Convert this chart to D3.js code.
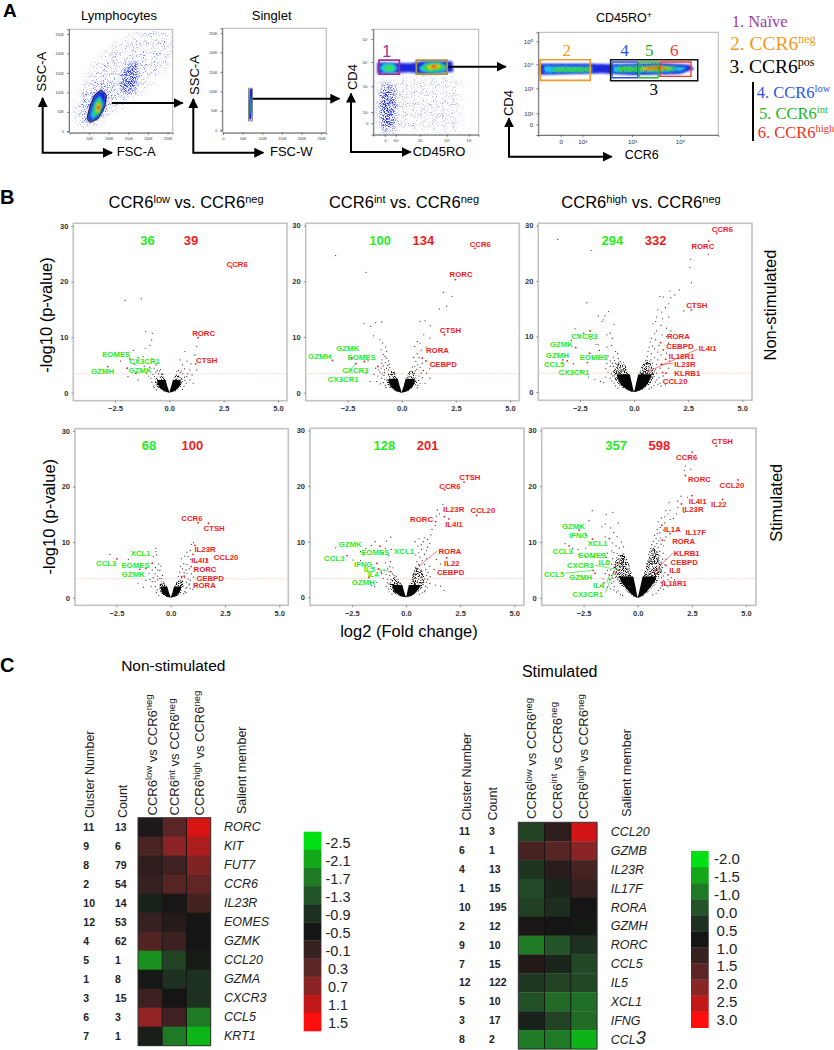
<!DOCTYPE html>
<html>
<head>
<meta charset="utf-8">
<title>CCR6 figure</title>
<script src="https://d3js.org/d3.v7.min.js"></script>
<style>
  body { margin: 0; background: white; }
  text { font-family: "Liberation Sans", Arial, sans-serif; }
  .serif { font-family: "Liberation Serif", "Times New Roman", serif; }
</style>
</head>
<body>
<svg id="chart" width="834" height="1050"></svg>
<script>
// ---- panel A : gated populations (FSC/SSC in K, the rest in decades)
var scatterTicks = [50, 100, 150, 200, 250];
var logTicks = [1.55, 2, 3, 4, 5];
var logLabels = ["0", "10²", "10³", "10⁴", "10⁵"];

var lymphSparse = [[22,8],[14,55],[35,123],[77,191],[162,251],[262,262],[262,183],[196,115],[162,80],[111,55],[69,21]];
var lymphHalo = [[35,21],[26,46],[39,89],[69,123],[111,132],[111,89],[94,46],[60,21]];
var lymphCloud = [[128,106],[136,149],[158,179],[173,175],[175,140],[166,106],[149,96]];
var lymphGate = [[81,106],[94,93],[90,63],[73,33],[52,23],[45,33],[52,63],[64,93]];
var lymphCyan = [[77,93],[87,72],[77,46],[58,29],[53,42],[63,76]];
var lymphGreen = [[75,85],[83,68],[75,46],[63,38],[63,63]];
var lymphYellow = [[75,76],[80,63],[73,48],[67,50],[69,68]];
var lymphRed = [[75,70],[77,62],[73,53],[70,59]];

var singletBlue = [[67,28],[72,28],[74,60],[74,106],[68,106],[66,60]];
var singletCyan = [[68,42],[72,42],[72.5,85],[69,85]];
var singletGreen = [[69,50],[71,50],[71.5,72],[69.5,72]];
var singletGate = [[65,24],[75,24],[75,108],[65,108]];

var memLower = [[1.35,3.15],[1.95,3.15],[2.1,2.3],[2,1.25],[1.4,1.2],[1.25,2.2]];
var memLowerCore = [[1.45,2.9],[1.85,2.9],[1.9,2.1],[1.8,1.35],[1.5,1.35],[1.4,2.1]];
var memSparse = [[2.05,1.2],[2.05,3.4],[4.6,3.4],[4.6,1.2]];
var memBand = [[1.22,3.52],[1.22,3.98],[2.6,3.95],[3.1,4.03],[4.25,4.03],[4.3,3.6],[3.1,3.5],[2.6,3.58]];
var memCyan = [[1.3,3.75],[1.5,3.95],[1.9,3.95],[2.1,3.75],[1.9,3.55],[1.5,3.55]];
var memGreen = [[1.45,3.75],[1.6,3.87],[1.85,3.87],[1.98,3.75],[1.85,3.63],[1.6,3.63]];
var memCyan2 = [[2.95,3.75],[3.2,3.97],[3.7,4],[4.05,3.85],[3.95,3.62],[3.4,3.55],[3.05,3.6]];
var memGreen2 = [[3.05,3.75],[3.3,3.93],[3.7,3.95],[3.95,3.82],[3.8,3.67],[3.3,3.62]];
var memYellow = [[3.25,3.78],[3.4,3.9],[3.7,3.9],[3.8,3.8],[3.6,3.72],[3.35,3.7]];
var memRed = [[3.38,3.8],[3.5,3.87],[3.65,3.85],[3.62,3.78],[3.45,3.76]];
var naiveGate = [[1.3,3.5],[1.3,4.08],[2.15,4.08],[2.15,3.5]];
var memoryGate = [[2.85,3.5],[2.85,4.08],[4.02,4.08],[4.02,3.5]];

var bandBlue = [[1.12,3.56],[1.12,4.02],[2.2,4.02],[2.6,4.0],[3.6,4.05],[4.2,3.98],[4.3,3.8],[4.0,3.6],[3.0,3.55],[2.4,3.63]];
var bandCyan = [[1.2,3.65],[1.2,3.94],[2.2,3.92],[2.2,3.67]];
var bandCyan2 = [[2.62,3.66],[2.62,3.93],[3.6,3.96],[4.15,3.88],[4.05,3.72],[3.6,3.66]];
var bandGreen = [[1.4,3.7],[1.4,3.86],[2.15,3.86],[2.15,3.7]];
var bandGreen2 = [[2.72,3.7],[2.72,3.9],[3.6,3.93],[3.95,3.86],[3.85,3.74],[3.5,3.7]];
var bandYellow = [[3.2,3.76],[3.2,3.87],[3.55,3.92],[3.88,3.86],[3.6,3.78]];
var bandRed = [[3.3,3.8],[3.3,3.86],[3.55,3.9],[3.76,3.85],[3.55,3.82]];
var gateNeg = [[1.12,3.33],[1.12,4.2],[2.16,4.2],[2.16,3.33]];
var gatePos = [[2.57,3.31],[2.57,4.2],[4.37,4.2],[4.37,3.31]];
var gateLow = [[2.6,3.44],[2.6,4.1],[3.12,4.1],[3.12,3.44]];
var gateInt = [[3.15,3.44],[3.15,4.1],[3.54,4.1],[3.54,3.44]];
var gateHigh = [[3.58,3.5],[3.58,4.1],[4.23,4.1],[4.23,3.5]];

// ---- panel B : volcano plots. [gene, fold change, -log10 p, label fold change, label -log10 p]
var genesLowNon = [["CCR6",2.86,22.5,3.12,23.2],["RORC",1.32,9.9,1.58,10.7],["CTSH",1.21,5.2,1.72,5.9],
  ["GZMH",-2.83,4.7,-3.06,3.9],["EOMES",-1.81,6.1,-2.44,7.0],["CX3CR1",-1.94,4.4,-1.14,5.6],["GZMK",-1.54,3.5,-1.34,4.1]];
var genesIntNon = [["CCR6",3.38,25.9,3.63,26.7],["RORC",2.48,20.3,2.74,21.2],["CTSH",1.97,10.4,2.25,11.2],
  ["RORA",.95,6.2,1.65,7.6],["CEBPD",1.12,5.7,1.92,5.1],["GZMH",-3.2,5.8,-3.78,6.5],["GZMK",-2.3,6.2,-2.49,7.9],
  ["EOMES",-1.72,5.6,-1.85,6.4],["CXCR3",-2.12,5.2,-2.14,4.0],["CX3CR1",-1.1,4.7,-2.7,2.5]];
var genesHighNon = [["CCR6",3.82,28.6,4.08,29.3],["RORC",3.45,27.2,3.18,26.3],["CTSH",2.65,14.8,2.9,15.6],
  ["RORA",1.23,8.9,2.05,10.1],["CEBPD",1.35,7.6,2.12,8.3],["IL4I1",.66,3.7,3.4,7.9],["IL18R1",1.46,5.9,2.2,6.5],
  ["IL23R",1.28,5,2.35,5],["KLRB1",1.32,3.5,2.46,3.4],["CCL20",1.48,3.4,1.9,1.9],["CXCR3",-2.03,11,-2.29,10.1],
  ["GZMK",-2.69,8,-3.35,8.6],["GZMH",-3.08,5.6,-3.54,6.7],["EOMES",-2.05,7,-1.86,6.3],["CCL5",-3.28,5.8,-3.69,5],
  ["CX3CR1",-2.15,5.3,-2.77,3.5]];
var genesLowSti = [["CCR6",1.26,13.5,.98,14.3],["CTSH",1.74,13.4,2.0,12.5],["IL23R",1.12,9.4,1.58,8.8],
  ["IL4I1",1.02,7.8,1.35,6.8],["CCL20",1.69,6.8,2.55,7.3],["RORC",.94,5.6,1.58,5.2],["CEBPD",.62,3.9,1.82,3.6],
  ["RORA",.51,3.8,1.55,2.2],["CCL3",-2.48,7,-2.97,6.2],["XCL1",-.85,6.2,-1.38,8],["EOMES",-1.15,5.3,-1.62,5.9],
  ["GZMK",-1.42,5.1,-1.72,4.3]];
var genesIntSti = [["CTSH",2.68,20.7,2.95,21.5],["CCR6",1.78,19.3,2.03,20],["IL23R",1.77,14.5,2.2,15.8],
  ["IL4I1",1.97,14.1,2.22,13.2],["CCL20",3.26,14.7,3.55,15.6],["RORC",1.37,13.6,.72,14],["RORA",.62,5.7,2.03,8.3],
  ["IL22",1.88,7.1,2.12,6.1],["CEBPD",.72,4.7,2.06,4.5],["GZMK",-1.2,9.2,-2.57,9.6],["EOMES",-1.97,7.7,-1.42,8.1],
  ["XCL1",-.72,4.6,-.09,8.3],["CCL3",-2.72,7.5,-3.31,7],["IFNG",-1.35,6.1,-1.97,6],["IL5",-1.26,5.1,-1.69,5],
  ["IL4",-1.12,4.3,-1.51,4.2],["GZMH",-1.72,3.6,-1.97,2.7]];
var genesHighSti = [["CTSH",3.63,27.2,3.91,28],["CCR6",2.51,26.1,2.26,25.2],["RORC",2.2,21.9,2.85,21.3],
  ["CCL20",4.63,21.1,4.35,20.1],["IL4I1",2.51,18.3,2.77,17.3],["IL22",3.92,17.6,3.75,16.7],["IL23R",2.02,16.8,2.55,15.9],
  ["IL1A",1.11,13,1.6,12.2],["IL17F",1.49,11.5,2.68,11.8],["RORA",1.14,10.3,2.12,10.2],["KLRB1",.8,4.8,2.26,7.9],
  ["CEBPD",1.31,5.8,2.15,6.4],["IL8",1.4,4.1,1.72,4.9],["IL18R1",.85,4.3,1.68,2.6],["GZMK",-2.71,12.1,-2.97,12.9],
  ["IFNG",-2.09,10.5,-2.74,11.2],["XCL1",-1.31,10.6,-1.85,9.7],["CCL3",-3.17,9.3,-3.46,8.4],["EOMES",-.85,6.2,-2.09,7.7],
  ["IL5",-.85,5,-1.55,6.3],["CXCR3",-.9,4.9,-2.65,5.8],["CCL5",-2.05,4.9,-3.86,4.3],["GZMH",-1.97,4.4,-2.63,3.7],
  ["IL4",-1.31,4.1,-1.8,2.2],["CX3CR1",-1.12,4.4,-2.31,.6]];

// leader lines, [x1, y1, x2, y2]
var leadersIntNon = [[-2.54,3.5,-2.12,5.2]];
var leadersHighNon = [[2.92,7.7,.66,3.7],[1.82,5.2,1.2,4.9]];
var leadersIntSti = [[1.45,8.3,.62,5.7],[-1.35,5,-.66,4.6]];
var leadersHighSti = [[1.62,8,.8,4.8],[-1.97,5.8,-.85,5],[-3.35,4.4,-2.05,4.9],[-1.43,2.6,-1.31,4],[-1.5,.9,-1.12,4.4]];

// the busy part of each V: outline of the area where the dots crowd together
var vLowNon = [[[0,0],[-.28,.25],[-.52,.9],[-.66,1.7],[-.62,2.6],[-.42,3.3],[-.3,3.5],[-.22,2.6],[-.12,1.3],[-.03,.4]],
  [[0,0],[.03,.4],[.12,1.3],[.22,2.6],[.32,3.4],[.45,3.2],[.62,2.6],[.62,1.7],[.5,.9],[.28,.25]]];
var vIntNon = [[[0,0],[-.3,.25],[-.58,1],[-.72,1.9],[-.7,2.9],[-.55,3.8],[-.35,3.9],[-.22,2.6],[-.12,1.3],[-.03,.4]],
  [[0,0],[.03,.4],[.12,1.3],[.22,2.6],[.35,3.9],[.55,3.8],[.7,2.9],[.72,1.9],[.58,1],[.3,.25]]];
var vHighNon = [[[0,0],[-.05,.6],[-.12,1.6],[-.22,3],[-.35,4.4],[-.5,5.4],[-.75,5.2],[-.95,3.8],[-.92,2.6],[-.72,1.3],[-.42,.5],[-.2,.15]],
  [[0,0],[.05,.6],[.12,1.6],[.22,3],[.35,4.6],[.5,5.8],[.75,5.6],[.95,4],[.95,2.8],[.75,1.4],[.45,.5],[.2,.15]]];
var vLowSti = [[[0,0],[-.25,.2],[-.45,.8],[-.55,1.6],[-.5,2.4],[-.35,3],[-.22,2.4],[-.12,1.2],[-.03,.3]],
  [[0,0],[.03,.3],[.1,1],[.18,2],[.3,3],[.42,3.4],[.58,3],[.6,2],[.48,.9],[.25,.2]]];
var vIntSti = [[[0,0],[-.3,.2],[-.6,.9],[-.75,1.8],[-.72,2.8],[-.55,3.6],[-.35,3.4],[-.2,2.2],[-.1,1],[-.03,.3]],
  [[0,0],[.04,.5],[.1,1.4],[.2,2.8],[.32,4.2],[.48,5.6],[.72,5],[.88,3.4],[.8,2],[.58,1],[.3,.25]]];
var vHighSti = [[[0,0],[-.05,.6],[-.12,1.9],[-.22,3.5],[-.32,5],[-.5,7],[-.65,8],[-.95,7.5],[-1.1,5.5],[-1.05,4],[-.9,2.8],[-.68,1.9],[-.42,.9],[-.2,.2]],
  [[0,0],[.05,.6],[.14,1.9],[.25,3.5],[.34,5],[.5,7],[.65,9],[.85,9],[1.1,6],[1.1,4.5],[.95,3],[.7,1.9],[.45,.9],[.2,.2]]];
var vSolidTops = [2.3, 2.5, 3.2, 2, 2.2, 3.8];

// single dots outside the busy part
var dotsLowNon = [[-2.03,16.6],[-1.28,16.9],[-1.09,11],[-.78,10.7],[-.81,9.5],[-.89,8.5],[-1.66,7.6],[-2.24,5.7],[-1.11,8],[-1.43,6.3],[-1.2,6.5],[-1.9,2.9],[-1.05,3.5],[-1.43,2.3],[-.74,5.6],[-.8,6.2],[-.6,5],[-.7,4.4],[-.9,4.6],[-.55,4],[-.75,3.3],[-.62,3.7],[-.45,3.9],[-.85,2.6],[-.72,1.2],[-.8,1.9],[-.95,3],[-1.15,4.8],[-1.25,3.9],[-1.6,5.1],[-.4,4.2],[-.68,2.9],[-.7,.9],[-.6,.5],[-.5,3.4],
  [1.26,8.3],[1.18,6.8],[.72,7.4],[.5,5.9],[.61,5],[.95,4.1],[1.26,4.1],[.95,2.3],[1.1,1.7],[.8,2.9],[.7,4.3],[.42,4],[.55,3.9],[.85,3.4],[.72,2.2],[.68,1.2],[.78,1.7],[1,5.2],[.82,5.7],[1.05,3.2],[.35,3.8],[.62,3.4],[.6,.6],[.5,3.6],[.7,2.8]];
var dotsIntNon = [[-3.05,24.6],[-1.65,21.6],[-1.74,12.4],[-1.2,12.6],[-1.43,11.9],[-.92,12.7],[-1.3,10.2],[-1,9.5],[-.88,8.9],[-.69,7.4],[-.77,6.5],[-.92,5.3],[-1.08,4.1],[-1.46,2],[-1.15,2],[-1.65,3.4],[-1.55,5.7],[-.95,7.7],[-.75,8.2],[-.85,6.9],[-.7,6.2],[-.6,5.7],[-.75,5.4],[-.85,4.8],[-.95,4.4],[-1,3.7],[-.9,3.4],[-1.1,3],[-.8,3.6],[-.65,4.9],[-.55,4.5],[-.7,4.4],[-.82,3.1],[-.92,2.6],[-.78,2.4],[-.85,1.8],[-.98,1.6],[-.76,1.3],[-.72,.9],[-.8,4.1],[-.62,4.1],[-.58,5.1],[-.9,5.9],[-1.2,4.4],[-1.28,3.3],
  [1.92,18],[2.32,17.3],[1.74,15],[2.08,15.5],[1.08,12.9],[.85,12.8],[1.32,12],[1.02,10.4],[.72,9.2],[.6,8.3],[.85,8.9],[1.3,9.8],[.9,7.6],[.72,7],[.55,6.3],[.65,5.6],[.8,6.3],[.95,5.3],[1.4,5.4],[1.3,4.3],[.75,5],[.6,4.7],[.7,4.2],[.85,4.5],[1,4],[1.15,3.5],[.9,3.5],[.8,3],[.95,2.7],[.78,2.2],[1.3,2.6],[1.08,1.7],[.75,1.3],[.85,1.7],[.72,.9],[1.5,4.9],[1.13,8.2],[.5,4.6],[.62,3.9]];
var dotsHighNon = [[-3.52,27.5],[-1.98,25.5],[-2.18,16.1],[-1.18,14.5],[-1.65,13.7],[-1.34,13.7],[-1.42,13],[-1.49,12.7],[-.92,12.2],[-2.72,11.4],[-2.32,10.6],[-1.1,10.6],[-1.25,10.3],[-1,9.7],[-2.6,10.3],[-2.9,9.3],[-2,9.5],[-1.75,8.6],[-1.65,8.5],[-1.6,7.5],[-1.25,8.1],[-1.03,8.4],[-.85,7.3],[-.75,6.9],[-.72,6],[-1.45,6.2],[-1.2,6.5],[-1.9,6],[-1.1,5.6],[-.95,6.3],[-.9,5.7],[-1.25,5.1],[-1,5.2],[-1.1,4.6],[-1.3,4.2],[-.95,4.6],[-2.8,5.1],[-2.45,3.8],[-2.1,2.7],[-1.8,2.3],[-1.55,1.9],[-1.4,1.7],[-1.2,3.6],[-1.05,3.3],[-.98,2.9],[-1.1,2.5],[-1.02,2],[-.92,1.6],[-.85,1.1],[-.75,.7],[-.95,3.7],[-.85,5.2],[-.7,5.4],[-.62,5.5],[-.8,5],[-1.3,2.7],
  [3.43,24.8],[2.62,23.9],[2.58,22.4],[2.65,19.7],[2.09,18.4],[1.66,18.2],[1.89,17.5],[1.2,17.2],[1.35,17.1],[1.7,17],[1.6,15.9],[2.3,14.6],[1.45,15.2],[1.1,14.8],[1.28,14.4],[1.05,13.5],[1.32,13.2],[1.6,13.5],[1,12.7],[.88,12.3],[1.25,12],[1.5,11.5],[1.7,11],[1.05,11],[.95,10.5],[1.3,10.3],[1.5,10],[.8,9.7],[.75,9],[1,9.4],[1.15,8.4],[.85,8.3],[1.6,8.8],[.7,8.1],[.95,7.8],[.65,7.3],[1.1,7.2],[.8,6.9],[1.5,7],[1.25,6.7],[.95,6.2],[.62,6.4],[.78,5.8],[1.1,5.8],[1.65,5.6],[.55,5.7],[.85,5.2],[1.05,5],[1.2,4.3],[1,4.1],[1.05,3.4],[1.6,4.3],[1.35,2.9],[1.15,2.6],[1.05,2.2],[.98,1.8],[1.2,1.6],[.92,1.2],[1.1,1.4],[.8,.8],[1.45,1.3],[1.25,1.1],[.7,.55]];
var dotsLowSti = [[-2.8,7.8],[-.69,8.9],[-.68,8.3],[-.65,7.7],[-.8,7.4],[-1.95,6.9],[-.45,5.7],[-.55,6.1],[-.6,5],[-.7,5.4],[-.5,4.9],[-.85,5],[-1,4.4],[-.72,4.3],[-.62,3.9],[-.8,3.6],[-.95,3.3],[-.85,2.9],[-.72,2.9],[-.6,3.2],[-1.15,3.1],[-.7,2],[-.62,1.4],[-.66,.9],[-1.25,1.9],[-.55,.4],[-.42,3.5],[-.38,4],[-1.5,2.6],[-.9,2],[-.5,3.5],
  [1.05,9.9],[.95,9.6],[.75,8.2],[.9,8.5],[.65,7.5],[.5,7],[.8,7.4],[.92,6.9],[1.2,6.5],[.6,6.1],[.45,5.6],[.75,6],[.85,5.2],[.55,5.2],[.7,5],[.42,4.6],[.62,4.5],[.75,4.4],[.95,4.3],[1.05,3.7],[.65,3.7],[.8,3.4],[.9,3.1],[.72,2.8],[.85,2.3],[.7,1.7],[.9,1.7],[.65,1.1],[.75,1.9],[.6,.7],[1.02,1.5],[1.4,3.3],[.35,3.8],[.5,3.6],[.85,2.5],[.7,.9]];
var dotsIntSti = [[-3.25,8.9],[-.9,10.1],[-.7,10.8],[-1.42,10],[-1.6,9.3],[-1.85,8.8],[-2.1,8.2],[-.95,8.8],[-1.05,7.9],[-.68,8.6],[-.8,7.5],[-2.45,6.7],[-2.1,6.6],[-.72,6.4],[-.95,6.2],[-.6,5.3],[-.75,5.5],[-.85,5.1],[-1,4.9],[-1.15,4.6],[-.92,4.1],[-.75,3.9],[-.62,4.2],[-.55,3.9],[-.45,3.8],[-1.05,3.4],[-.85,3.2],[-1.35,2.7],[-1.6,2.1],[-1.45,1.9],[-.85,2.6],[-.92,2],[-.8,1.5],[-.78,1],[-.65,.6],[-.78,2.4],[-.7,3.2],
  [1.7,16.7],[1.45,15.7],[1.55,15],[1.4,14.6],[1.35,12.9],[1.2,12.2],[1.15,11.2],[.85,10.7],[.6,10.5],[1,10.4],[.42,10],[.8,10],[1.1,9.7],[.7,9.4],[.55,9.2],[1,9],[.95,8.4],[.72,8.6],[.58,8],[.85,7.7],[.45,7.6],[.65,7.2],[.95,6.9],[.75,6.6],[.5,6.4],[.58,5.9],[.85,5.9],[1.1,5.6],[1.3,5],[.92,5],[.45,5.4],[.4,4.7],[1.02,4.5],[.95,3.9],[1.12,3.7],[1,3.2],[.95,2.7],[1.1,2.5],[1.35,2.2],[.9,2],[.98,1.7],[.88,1.2],[.75,.8],[.62,.55],[.85,1],[1.6,2],[1.75,1.2],[.4,4.2],[.5,5],[1.4,6.8],[1.6,6]];
var dotsHighSti = [[-2.1,15.6],[-1.45,14.9],[-1.15,15.3],[-2.25,13.8],[-1.5,13.2],[-.9,13.4],[-1.65,12.7],[-1.25,12.5],[-1.1,11.7],[-2.4,11.4],[-1.5,10.9],[-.95,11],[-.75,10],[-1.15,9.8],[-1,9.3],[-.65,9.1],[-.85,8.9],[-3.35,9.7],[-3,8.9],[-2.75,8.6],[-2.4,8.9],[-2.75,7.7],[-2.4,7.4],[-2,7.3],[-1.65,7.7],[-1.2,8.4],[-1.4,8],[-1.1,8.1],[-.95,7.9],[-.75,7.6],[-1.45,7.2],[-1.15,7],[-.9,6.9],[-.65,6.9],[-.55,6.3],[-.75,6.4],[-1,6.3],[-1.2,6],[-1.45,6.2],[-1.75,6],[-1.1,5.5],[-1,5.2],[-.85,5.7],[-.7,5.7],[-1.25,5],[-1.4,4.9],[-1.1,4.7],[-.98,4.5],[-1.5,4.3],[-1.2,4],[-1.05,4.2],[-1.6,3.4],[-1.3,3.3],[-1.15,3.5],[-1.1,2.9],[-1.2,2.6],[-1.4,1.9],[-1.25,1.6],[-1.08,2],[-1.1,1.4],[-.98,1],[-.9,1.2],[-.8,.6],[-.7,.4],[-.6,5.6],[-.5,5.3],[-.45,5],[-1.02,3.6],[-1.7,2.2],[-1.55,2.7],
  [2.2,23.6],[2.15,22.8],[2.45,23],[2,18.2],[2.3,18],[1.85,17.3],[1.45,17.1],[1.85,16.2],[1.5,15.7],[2.15,15.3],[1.3,15.6],[1.4,15],[1.25,14.5],[1.8,15],[1.65,14.2],[1.5,14],[1.1,14.3],[.95,13.6],[1.25,13.4],[1.05,12.6],[.9,12.2],[1.2,12.1],[1.02,11.6],[.9,11.5],[.78,11.2],[1.3,10.9],[1.05,10.7],[.85,10.6],[1.25,10.3],[.98,10.2],[.72,10.1],[.88,9.7],[1.08,9.6],[.65,9.5],[.8,9.2],[.95,9],[1.2,9.3],[.6,8.8],[.75,8.5],[1.02,8.3],[.9,8.2],[.55,8.2],[.68,7.9],[1.18,8],[.82,7.7],[1.02,7.5],[.5,7.7],[1.15,6.9],[.95,7],[1.3,6.9],[1.1,6.4],[.75,7.3],[1.25,5.9],[1.15,5.4],[1.1,4.8],[1.02,5.2],[1.25,4.5],[1.18,3.9],[1.1,3.6],[1.4,3.2],[1.2,3],[1.08,2.7],[1.25,2.4],[1.12,2.1],[1.05,1.7],[1.2,1.5],[.95,1.3],[.85,.8],[.7,.5],[1.4,2],[1.55,3.6],[1.7,3.2],[.48,6.6],[.42,6.1],[.58,7.1]];

var volcanoTitles = ["low", "int", "high"];
var downCounts = [36, 100, 294, 68, 128, 357];
var upCounts = [39, 134, 332, 100, 201, 598];
var xTicks = [-2.5, 0, 2.5, 5];
var yTicks = [0, 10, 20, 30];
var sigLine = 3.4;

// ---- panel C : heat maps
var clusterNon = [11,9,8,2,10,12,4,5,1,3,6,7];
var countNon = [13,6,79,54,14,53,62,1,8,15,3,1];
var memberNon = ["RORC","KIT","FUT7","CCR6","IL23R","EOMES","GZMK","CCL20","GZMA","CXCR3","CCL5","KRT1"];
var heatNon = [[-.4,.3,1.25],[.1,.7,.95],[-.2,0,.6],[-.1,.25,.35],[-.7,-.45,.05],[-.1,-.3,-.5],[.2,-.05,-.5],[-1.9,-1.1,-.6],[-.55,-.9,-.9],[-.05,-.5,-.9],[.75,0,-1.7],[-.65,-1.7,-2.2]];
var legendNon = [-2.5,-2.1,-1.7,-1.3,-.9,-.5,-.1,.3,.7,1.1,1.5];

var clusterSti = [11,6,4,1,10,2,9,7,12,5,3,8];
var countSti = [3,1,13,15,195,12,10,15,122,10,17,2];
var memberSti = ["CCL20","GZMB","IL23R","IL17F","RORA","GZMH","RORC","CCL5","IL5","XCL1","IFNG","CCL"];
var heatSti = [[-.25,.85,2.65],[1.2,1.45,2],[-.05,.8,1.2],[-.35,.2,1],[-.2,.05,.5],[.6,.5,.45],[-1,-.5,0],[.7,.2,-.3],[-.1,-.25,-.3],[-.45,-.8,-.85],[.25,-.25,-.8],[-1,-1,-1.6]];
var legendSti = [-2,-1.5,-1,-.5,0,.5,1,1.5,2,2.5,3];
var legendStiLabels = ["-2.0","-1.5","-1.0","0.0","0.5","1.0","1.5","2.0","2.5","3.0"];
var heatColors = ["#00e012","#12a818","#1f7a25","#235528","#1e3120","#151515","#372020","#5c2525","#8a2425","#c01818","#ff0e0e"];

var svg = d3.select("#chart");
var defs = svg.append("defs");

// arrow head
defs.append("marker").attr("id", "head")
  .attr("viewBox", "0 0 10 10").attr("refX", 9).attr("refY", 5)
  .attr("markerUnits", "userSpaceOnUse").attr("markerWidth", 10).attr("markerHeight", 10)
  .attr("orient", "auto-start-reverse")
  .append("path").attr("d", "M0,0L10,5L0,10Z").attr("fill", "black");

// dotty texture for the crowded areas, so an outline does not read as a solid shape
function speck(id, cut, blur) {
  var f = defs.append("filter").attr("id", id).attr("x", "-15%").attr("y", "-15%").attr("width", "130%").attr("height", "130%")
    .attr("color-interpolation-filters", "sRGB");
  f.append("feTurbulence").attr("type", "fractalNoise").attr("baseFrequency", 1.1).attr("numOctaves", 1).attr("seed", 7);
  f.append("feColorMatrix").attr("values", "0 0 0 0 0 0 0 0 0 0 0 0 0 0 0 6 0 0 0 " + (-6 * cut)).attr("result", "n");
  f.append("feGaussianBlur").attr("in", "SourceGraphic").attr("stdDeviation", blur).attr("result", "b");
  f.append("feComposite").attr("in", "b").attr("in2", "n").attr("operator", "in");
}
speck("speckThin", 0.56, 4);
speck("speckMid", 0.5, 3);
speck("speckThick", 0.43, 2);
speck("speckOver", 0.58, 0.4);
speck("speckV", 0.47, 0.4);
defs.append("filter").attr("id", "soft").attr("x", "-30%").attr("y", "-30%").attr("width", "160%").attr("height", "160%")
  .append("feGaussianBlur").attr("stdDeviation", 0.9);

function txt(parent, x, y, s, size, o) {
  o = o || {};
  var t = parent.append("text").attr("x", x).attr("y", y).attr("font-size", size)
    .attr("fill", o.fill || "black").attr("text-anchor", o.anchor || "start");
  if (o.bold) t.attr("font-weight", "bold");
  if (o.italic) t.attr("font-style", "italic");
  if (o.cls) t.attr("class", o.cls);
  if (o.rot) t.attr("transform", "rotate(-90," + x + "," + y + ")");
  if (s !== null) t.text(s);
  return t;
}

// text with raised bits, parts = [[string, raised?], ...]
function supText(parent, x, y, parts, size, supSize, rise, o) {
  var t = txt(parent, x, y, null, size, o);
  var up = false;
  parts.forEach(function(p) {
    var sp = t.append("tspan").text(p[0]).attr("font-size", p[1] ? supSize : size);
    if (p[1] && !up) sp.attr("dy", -rise);
    if (!p[1] && up) sp.attr("dy", rise);
    up = !!p[1];
  });
  return t;
}

function arrow(pts) {
  svg.append("path").attr("d", d3.line()(pts)).attr("fill", "none").attr("stroke", "black")
    .attr("stroke-width", 2).attr("marker-end", "url(#head)")
    .attr("marker-start", pts.length > 2 ? "url(#head)" : null);
}

// ---- panel A
var plotCount = 0;
function flowPlot(box, x, y, xTickVals, xFmt, yTickVals, yFmt, tickSize, layers, gates) {
  plotCount++;
  var g = svg.append("g");
  g.append("rect").attr("x", box[0]).attr("y", box[1]).attr("width", box[2]).attr("height", box[3])
    .attr("fill", "white").attr("stroke", "#b5b5b5").attr("stroke-width", 1);
  defs.append("clipPath").attr("id", "fc" + plotCount).append("rect")
    .attr("x", box[0]).attr("y", box[1]).attr("width", box[2]).attr("height", box[3]);
  var inner = g.append("g").attr("clip-path", "url(#fc" + plotCount + ")");
  var line = d3.line().x(function(d) { return x(d[0]); }).y(function(d) { return y(d[1]); }).curve(d3.curveLinearClosed);
  layers.forEach(function(l) {
    inner.append("path").attr("d", line(l[0])).attr("fill", l[1]).attr("opacity", l[3] || 1)
      .attr("filter", l[2] ? "url(#" + l[2] + ")" : null);
  });
  gates.forEach(function(l) {
    inner.append("path").attr("d", line(l[0])).attr("fill", "none").attr("stroke", l[1]).attr("stroke-width", l[2]);
  });
  var ax = g.append("g").attr("transform", "translate(0," + (box[1] + box[3]) + ")")
    .call(d3.axisBottom(x).tickValues(xTickVals).tickSize(2).tickFormat(xFmt));
  var ay = g.append("g").attr("transform", "translate(" + box[0] + ",0)")
    .call(d3.axisLeft(y).tickValues(yTickVals).tickSize(2).tickFormat(yFmt));
  [ax, ay].forEach(function(a) {
    a.selectAll("text").attr("font-size", tickSize).attr("fill", "#333").attr("font-family", '"Liberation Sans"');
    a.selectAll("line,path").attr("stroke", "#333").attr("stroke-width", 0.6);
  });
  return g;
}
var kFmt = function(d) { return d === 0 ? "0" : d + "K"; };
var logFmt = function(d) { return logLabels[logTicks.indexOf(d)]; };

var x1 = d3.scaleLinear().domain([0, 263]).range([69.5, 172.7]);
var y1 = d3.scaleLinear().domain([0, 262]).range([131.3, 29.3]);
flowPlot([69, 29.3, 103.7, 103.4], x1, y1, scatterTicks, kFmt, [0].concat(scatterTicks), kFmt, 3.6, [
  [lymphSparse, "#7080ff", "speckThin"], [lymphHalo, "#4a5cff", "speckMid"], [lymphCloud, "#2a3af0", "speckThick"],
  [lymphGate, "#1722d8", "soft"], [lymphCyan, "#18c4e6", "soft"], [lymphGreen, "#3ccf3c", "soft"],
  [lymphYellow, "#f0e020", "soft"], [lymphRed, "#e82010", "soft"]
], [[lymphGate, "#111", 0.9]]);

var x2 = d3.scaleLinear().domain([0, 263]).range([223, 326.3]);
var y2 = d3.scaleLinear().domain([0, 262]).range([130.3, 28.3]);
flowPlot([222.3, 28.3, 104, 104.4], x2, y2, [0].concat(scatterTicks), kFmt, [0].concat(scatterTicks), kFmt, 3.6, [
  [singletBlue, "#1722d8"], [singletCyan, "#18c4e6", "soft"], [singletGreen, "#3ccf3c", "soft"]
], [[singletGate, "#666", 0.8]]);

var x3 = d3.scaleLinear().domain([1.06, 1.55, 2, 3, 4, 5, 5.4]).range([373.3, 385, 395.7, 420, 446.7, 469, 478.7]);
var y3 = d3.scaleLinear().domain([1.1, 1.55, 2, 3, 4, 5, 5.4]).range([134.7, 123.3, 112, 86.3, 62, 39, 29.3]);
flowPlot([373.3, 29.3, 105.4, 105.4], x3, y3, logTicks, logFmt, logTicks, logFmt, 3.8, [
  [memSparse, "#a0a8e0", "speckThin"], [memLower, "#3a48e8", "speckMid"], [memLowerCore, "#2230d8", "speckThick"],
  [memBand, "#1a28dc", "soft"], [memCyan, "#1cc6e8", "soft"], [memCyan2, "#1cc6e8", "soft"],
  [memGreen, "#38e060", "soft"], [memGreen2, "#3ccf3c", "soft"], [memYellow, "#f0e020", "soft"], [memRed, "#e82010", "soft"]
], [[naiveGate, "#a0309a", 1.8], [memoryGate, "#a8953a", 1.8]]);

var x4 = d3.scaleLinear().domain([1.08, 1.55, 2, 3, 4, 4.8]).range([538.3, 560.7, 582.3, 632, 680, 718.3]);
var y4 = d3.scaleLinear().domain([1.2, 1.55, 2, 3, 4, 5, 5.39]).range([135, 124.3, 113.3, 88.3, 64.3, 41.3, 32.3]);
flowPlot([538.3, 32.3, 180, 102.7], x4, y4, logTicks.slice(0, 4), logFmt, logTicks, logFmt, 6.2, [
  [bandBlue, "#1a28dc", "soft"], [bandCyan, "#1cc6e8", "soft"], [bandCyan2, "#1cc6e8", "soft"],
  [bandGreen, "#3ccf3c", "soft"], [bandGreen2, "#3ccf3c", "soft"], [bandBlue, "#2a38e0", "speckOver"],
  [bandYellow, "#f0c020", "soft"], [bandRed, "#e8401a", "soft"]
], [[gateNeg, "#f59a23", 1.6], [gatePos, "#111", 1.5], [gateLow, "#2b4fe0", 1.3], [gateInt, "#22c022", 1.3], [gateHigh, "#ee3a2a", 1.3]]);

arrow([[42.7, 98], [42.7, 152.7], [112, 152.7]]);
arrow([[193.3, 99], [193.3, 152.7], [263.3, 152.7]]);
arrow([[351, 93.5], [351, 152], [410.7, 152]]);
arrow([[509, 118.3], [509, 156.7], [611.7, 156.7]]);
arrow([[111.7, 103], [182.7, 103]]);
arrow([[252.7, 98.7], [339.3, 98.7]]);
arrow([[448.3, 66.7], [505.7, 66.7]]);

txt(svg, 3, 17, "A", 19, { bold: true });
txt(svg, 119, 19.5, "Lymphocytes", 13, { anchor: "middle" });
txt(svg, 271.7, 19.5, "Singlet", 13, { anchor: "middle" });
supText(svg, 624, 21.7, [["CD45RO", 0], ["+", 1]], 12.5, 9, 4, { anchor: "middle" });
txt(svg, 46.5, 71.7, "SSC-A", 13, { anchor: "middle", rot: true });
txt(svg, 199, 75, "SSC-A", 13, { anchor: "middle", rot: true });
txt(svg, 356.5, 77, "CD4", 13, { anchor: "middle", rot: true });
txt(svg, 513, 103, "CD4", 13, { anchor: "middle", rot: true });
txt(svg, 116.7, 156, "FSC-A", 13);
txt(svg, 270, 156, "FSC-W", 13);
txt(svg, 412.7, 156, "CD45RO", 13);
txt(svg, 641.7, 159, "CCR6", 12.5, { anchor: "middle" });

txt(svg, 386.7, 57, "1", 16, { fill: "#a0309a", anchor: "middle" });
txt(svg, 566.7, 56, "2", 17, { fill: "#f59a23", anchor: "middle", cls: "serif" });
txt(svg, 624.5, 56, "4", 17, { fill: "#2b4fe0", anchor: "middle", cls: "serif" });
txt(svg, 649.3, 56, "5", 17, { fill: "#22b022", anchor: "middle", cls: "serif" });
txt(svg, 674.3, 56, "6", 17, { fill: "#ee3a2a", anchor: "middle", cls: "serif" });
txt(svg, 653.7, 95, "3", 17, { anchor: "middle", cls: "serif" });

txt(svg, 731.7, 27, "1. Naïve", 16.5, { fill: "#a23aa6", cls: "serif" });
supText(svg, 730, 50, [["2. CCR6", 0], ["neg", 1]], 19.5, 12, 7, { fill: "#f59a23", cls: "serif" });
supText(svg, 729.5, 73, [["3. CCR6", 0], ["pos", 1]], 19.5, 12, 7, { cls: "serif" });
svg.append("rect").attr("x", 752).attr("y", 82).attr("width", 2).attr("height", 59).attr("fill", "black");
supText(svg, 756.7, 98, [["4. CCR6", 0], ["low", 1]], 16.5, 10.5, 6, { fill: "#2b52e8", cls: "serif" });
supText(svg, 759, 119, [["5. CCR6", 0], ["int", 1]], 16.5, 10.5, 6, { fill: "#1db81d", cls: "serif" });
supText(svg, 757.7, 138, [["6. CCR6", 0], ["high", 1]], 16.5, 10.5, 6, { fill: "#f03020", cls: "serif" });

// ---- panel B
var volcanoGenes = [genesLowNon, genesIntNon, genesHighNon, genesLowSti, genesIntSti, genesHighSti];
var volcanoDots = [dotsLowNon, dotsIntNon, dotsHighNon, dotsLowSti, dotsIntSti, dotsHighSti];
var volcanoV = [vLowNon, vIntNon, vHighNon, vLowSti, vIntSti, vHighSti];
var volcanoLeaders = [[], leadersIntNon, leadersHighNon, [], leadersIntSti, leadersHighSti];
var panelBoxes = [
  { left: 73.3, right: 287, top: 223.3, bottom: 400.7, x0: 169.3, x5: 278, y0: 392.7, y30: 226 },
  { left: 305.7, right: 519.3, top: 223.3, bottom: 400.7, x0: 401.7, x5: 510, y0: 392.7, y30: 225.5 },
  { left: 538.3, right: 752, top: 223.3, bottom: 400.3, x0: 634, x5: 742.3, y0: 392, y30: 225.5 },
  { left: 75, right: 288.3, top: 428.7, bottom: 605.3, x0: 170.7, x5: 279.3, y0: 597.7, y30: 431 },
  { left: 310, right: 524, top: 428.3, bottom: 605.3, x0: 406, x5: 514.3, y0: 597.3, y30: 430.3 },
  { left: 541.7, right: 756, top: 428.3, bottom: 605.3, x0: 637.7, x5: 746, y0: 597.7, y30: 430.3 }
];

panelBoxes.forEach(function(b, i) {
  var x = d3.scaleLinear().domain([0, 5]).range([b.x0, b.x5]);
  var y = d3.scaleLinear().domain([0, 30]).range([b.y0, b.y30]);
  var g = svg.append("g");
  g.append("rect").attr("x", b.left).attr("y", b.top).attr("width", b.right - b.left).attr("height", b.bottom - b.top)
    .attr("fill", "white").attr("stroke", "#c2c2c2").attr("stroke-width", 1.6);
  g.append("line").attr("x1", b.left).attr("x2", b.right).attr("y1", y(sigLine)).attr("y2", y(sigLine))
    .attr("stroke", "#f8cccc").attr("stroke-width", 0.9).attr("stroke-dasharray", "1.5 0.8");

  var ax = g.append("g").attr("transform", "translate(0," + b.bottom + ")")
    .call(d3.axisBottom(x).tickValues(xTicks).tickSize(2).tickFormat(d3.format(".1f")));
  var ay = g.append("g").attr("transform", "translate(" + b.left + ",0)")
    .call(d3.axisLeft(y).tickValues(yTicks).tickSize(2));
  ax.select(".domain").remove();
  ay.select(".domain").remove();
  [ax, ay].forEach(function(a) {
    a.selectAll("text").attr("font-size", 7.5).attr("font-weight", "bold").attr("fill", "#333").attr("font-family", '"Liberation Sans"');
    a.selectAll("line").attr("stroke", "#555").attr("stroke-width", 0.6);
  });

  // busy part: dots all over the outline, solid only in the low part of each arm
  var vLine = d3.line().x(function(d) { return x(d[0]); }).y(function(d) { return y(d[1]); }).curve(d3.curveLinearClosed);
  defs.append("clipPath").attr("id", "vc" + i).append("rect")
    .attr("x", b.left).attr("width", b.right - b.left)
    .attr("y", y(vSolidTops[i])).attr("height", y(-1) - y(vSolidTops[i]));
  g.selectAll(".arm").data(volcanoV[i]).enter().append("path").attr("class", "arm")
    .attr("d", vLine).attr("fill", "#000").attr("filter", "url(#speckV)");
  g.append("g").attr("clip-path", "url(#vc" + i + ")")
    .selectAll(".core").data(volcanoV[i]).enter().append("path").attr("class", "core")
    .attr("d", vLine).attr("fill", "#050505")
    .attr("transform", "translate(" + x(0) + ",0) scale(0.84,1) translate(" + (-x(0)) + ",0)");
  g.selectAll(".dot").data(volcanoDots[i]).enter().append("circle").attr("class", "dot")
    .attr("cx", function(d) { return x(d[0]); }).attr("cy", function(d) { return y(d[1]); })
    .attr("r", 0.6).attr("fill", "#111").attr("opacity", 0.9);

  g.selectAll(".leader").data(volcanoLeaders[i]).enter().append("line").attr("class", "leader")
    .attr("x1", function(d) { return x(d[0]); }).attr("y1", function(d) { return y(d[1]); })
    .attr("x2", function(d) { return x(d[2]); }).attr("y2", function(d) { return y(d[3]); })
    .attr("stroke", function(d) { return d[2] < 0 ? "#2ce02c" : "#f04848"; }).attr("stroke-width", 0.7);
  g.selectAll(".gene").data(volcanoGenes[i]).enter().append("circle").attr("class", "gene")
    .attr("cx", function(d) { return x(d[1]); }).attr("cy", function(d) { return y(d[2]); })
    .attr("r", 0.9).attr("fill", "#f01c1c");
  g.selectAll(".geneName").data(volcanoGenes[i]).enter().append("text").attr("class", "geneName")
    .attr("x", function(d) { return x(d[3]); }).attr("y", function(d) { return y(d[4]); }).attr("dy", "0.36em")
    .attr("text-anchor", "middle").attr("font-size", 7.8).attr("font-weight", "bold")
    .attr("fill", function(d) { return d[1] < 0 ? "#1fee1f" : "#f01c1c"; })
    .text(function(d) { return d[0]; });

  txt(g, x(-1), y(26.5), downCounts[i], 13, { bold: true, fill: "#1fee1f", anchor: "middle" });
  txt(g, x(1), y(26.5), upCounts[i], 13, { bold: true, fill: "#f01c1c", anchor: "middle" });
});

txt(svg, 0, 204, "B", 20, { bold: true });
[186, 404, 641].forEach(function(cx, i) {
  supText(svg, cx, 208.3, [["CCR6", 0], [volcanoTitles[i], 1], [" vs. CCR6", 0], ["neg", 1]], 16.5, 11, 5.5, { anchor: "middle" });
});
txt(svg, 52, 315, "-log10 (p-value)", 16.5, { anchor: "middle", rot: true });
txt(svg, 55, 516.7, "-log10 (p-value)", 16.5, { anchor: "middle", rot: true });
txt(svg, 409, 637, "log2 (Fold change)", 16.5, { anchor: "middle" });
txt(svg, 775.7, 305, "Non-stimulated", 16.5, { anchor: "middle", rot: true });
txt(svg, 781.7, 502.7, "Stimulated", 16.5, { anchor: "middle", rot: true });

// ---- panel C
function heatPanel(c) {
  var color = d3.scaleLinear().domain(c.legend).range(heatColors).clamp(true);
  var x = d3.scaleBand().domain([0, 1, 2]).range([c.left, c.right]);
  var y = d3.scaleBand().domain(d3.range(c.values.length)).range([c.top, c.bottom]);
  var g = svg.append("g");
  c.values.forEach(function(row, r) {
    g.selectAll(".r" + r).data(row).enter().append("rect").attr("class", "r" + r)
      .attr("x", function(d, k) { return x(k); }).attr("y", y(r))
      .attr("width", x.bandwidth() + 0.3).attr("height", y.bandwidth() + 0.3)
      .attr("fill", function(d) { return color(d); });
    var my = y(r) + y.bandwidth() / 2 + 3.6;
    txt(g, c.clusterX, my, c.clusters[r], 10.5, { bold: true, fill: "#222" });
    txt(g, c.countX, my, c.counts[r], 10.5, { bold: true, fill: "#222" });
    var name = txt(g, c.memberX, my + 0.6, null, 12.5, { italic: true, fill: "#222" });
    name.append("tspan").text(c.members[r]);
    if (c.members[r] === "CCL") name.append("tspan").attr("font-size", 18).text("3");
  });
  [1, 2].forEach(function(k) {
    g.append("line").attr("x1", x(k)).attr("x2", x(k)).attr("y1", c.top).attr("y2", c.bottom)
      .attr("stroke", "#111").attr("stroke-width", 0.9);
  });
  g.append("rect").attr("x", c.left).attr("y", c.top).attr("width", c.right - c.left).attr("height", c.bottom - c.top)
    .attr("fill", "none").attr("stroke", "#333").attr("stroke-width", 1);

  txt(g, c.titleX, c.titleY, c.title, c.titleSize, { anchor: "middle" });
  txt(g, c.clusterBase, c.headBottom, "Cluster Number", 12.5, { rot: true, fill: "#222" });
  txt(g, c.countBase, c.headBottom, "Count", 12.5, { rot: true, fill: "#222" });
  txt(g, c.memberBase, c.memberBottom, "Salient member", 12.5, { rot: true, fill: "#222" });
  c.colBases.forEach(function(bx, k) {
    supText(g, bx, c.colBottom, [["CCR6", 0], [volcanoTitles[k], 1], [" vs CCR6", 0], ["neg", 1]], 13, 9.5, 4.5, { rot: true, fill: "#222" });
  });

  var ly = d3.scaleBand().domain(c.legend).range([c.legTop, c.legBottom]);
  g.selectAll(".sw").data(c.legend).enter().append("rect").attr("class", "sw")
    .attr("x", c.legLeft).attr("y", function(d) { return ly(d); })
    .attr("width", c.legWidth).attr("height", ly.bandwidth() + 0.3)
    .attr("fill", function(d) { return color(d); });
  var lab = d3.scalePoint().domain(c.legendLabels).range([c.labTop, c.labBottom]);
  c.legendLabels.forEach(function(s) {
    txt(g, c.labX, lab(s) + 5, s, c.labSize, { anchor: "middle", fill: "#222" });
  });
}

txt(svg, 0, 672, "C", 20, { bold: true });
heatPanel({
  title: "Non-stimulated", titleX: 173.3, titleY: 670.7, titleSize: 15.5,
  values: heatNon, clusters: clusterNon, counts: countNon, members: memberNon,
  legend: legendNon, legendLabels: legendNon.map(function(d) { return d3.format(".1f")(d).replace("−", "-"); }),
  left: 138, right: 210.7, top: 817.7, bottom: 1045.7,
  clusterX: 83.3, countX: 115, memberX: 224,
  clusterBase: 94, countBase: 126.7, memberBase: 245.5, headBottom: 818, memberBottom: 814,
  colBases: [156.7, 179.3, 204.3], colBottom: 815.5,
  legLeft: 303.7, legWidth: 17.7, legTop: 831.7, legBottom: 1031,
  labX: 338, labTop: 843.3, labBottom: 1022.7, labSize: 14.5
});
heatPanel({
  title: "Stimulated", titleX: 559.7, titleY: 677.3, titleSize: 16,
  values: heatSti, clusters: clusterSti, counts: countSti, members: memberSti,
  legend: legendSti, legendLabels: legendStiLabels,
  left: 518.3, right: 597, top: 822.3, bottom: 1049,
  clusterX: 459, countX: 489, memberX: 610.7,
  clusterBase: 471, countBase: 497.3, memberBase: 630.7, headBottom: 820.5, memberBottom: 816.7,
  colBases: [536, 561.7, 588.3], colBottom: 819,
  legLeft: 691, legWidth: 17.7, legTop: 851, legBottom: 1027.7,
  labX: 727, labTop: 859.3, labBottom: 1020, labSize: 15
});
</script>
</body>
</html>
